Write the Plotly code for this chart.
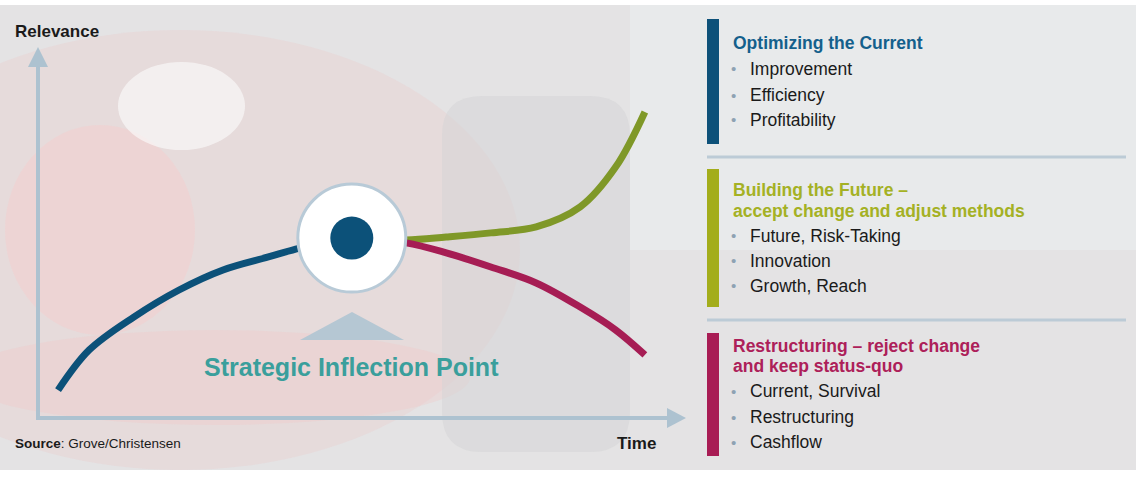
import plotly.graph_objects as go

# ***** DATA *****
# curve before the inflection point (time, relevance in % of axis)
time_before = [3.1, 7.9, 14.8, 21.8, 28.6, 35.6, 40.5, 48.5]
rel_before = [7.5, 18.3, 27.2, 34.5, 39.9, 43.4, 45.8, 48.5]

# the two paths after the inflection point
time_after = [48.5, 56.9, 63.1, 70.0, 77.0, 83.8, 89.3, 93.8]
rel_future = [48.5, 48.0, 48.8, 49.9, 51.5, 56.9, 67.7, 82.5]
rel_restructure = [48.5, 47.2, 44.5, 40.7, 36.4, 29.9, 23.7, 17.0]

inflection_t = [48.5]
inflection_r = [48.5]

block_titles = [
    ["Optimizing the Current"],
    ["Building the Future \u2013", "accept change and adjust methods"],
    ["Restructuring \u2013 reject change", "and keep status-quo"],
]
block_items = [
    ["Improvement", "Efficiency", "Profitability"],
    ["Future, Risk-Taking", "Innovation", "Growth, Reach"],
    ["Current, Survival", "Restructuring", "Cashflow"],
]

# ***** STYLE / LAYOUT *****
W, H = 1136, 477
FONT = "Liberation Sans, Arial, sans-serif"
BLUE = "#0c5179"
GREEN = "#7f9828"
RED = "#a61d54"
AXIS = "#adc2d0"
bar_colors = ["#0d5179", "#a3ad1b", "#a81c54"]
title_colors = ["#14608c", "#a4b124", "#ad2059"]

# pixel positions of the right-hand panel
bar_spans = [(19, 144), (169, 307), (333, 456)]
title_y = [[43], [190, 210.5], [345.5, 365.5]]
item_y = [[69, 95, 120], [235.5, 260.5, 285.5], [391, 417, 442]]
sep_y = [157, 320]


def px(x):
    return x / W


def py(y):
    return 1 - y / H


fig = go.Figure()

fig.add_trace(go.Scatter(x=time_before, y=rel_before, mode="lines",
                         line=dict(color=BLUE, width=7, shape="spline")))
fig.add_trace(go.Scatter(x=time_after, y=rel_future, mode="lines",
                         line=dict(color=GREEN, width=7, shape="spline")))
fig.add_trace(go.Scatter(x=time_after, y=rel_restructure, mode="lines",
                         line=dict(color=RED, width=7, shape="spline")))
# the inflection point: white ring with a dark dot
fig.add_trace(go.Scatter(x=inflection_t, y=inflection_r, mode="markers",
                         marker=dict(size=108, color="white",
                                     line=dict(color="#b8cad7", width=3))))
fig.add_trace(go.Scatter(x=inflection_t, y=inflection_r, mode="markers",
                         marker=dict(size=43, color=BLUE)))

shapes = []


def soft(kind, x0, x1, y0, y1, color):
    shapes.append(dict(type=kind, xref="paper", yref="paper", layer="below",
                       x0=px(x0), x1=px(x1), y0=py(y1), y1=py(y0),
                       fillcolor=color, line_width=0))


# backdrop (stands in for the blurred photo)
soft("rect", 0, W, 5, 470, "#e4e3e4")
soft("rect", 630, W, 5, 250, "rgba(238,242,245,0.45)")
soft("circle", -160, 520, 30, 470, "rgba(236,196,196,0.28)")
soft("circle", 5, 195, 125, 335, "rgba(246,204,204,0.45)")
soft("circle", -40, 470, 330, 425, "rgba(242,200,200,0.35)")
soft("circle", 118, 245, 62, 150, "rgba(250,250,250,0.65)")
# tyre
x0, x1, y0, y1, r = px(442), px(630), py(96), py(452), 40
rx, ry = r / W, r / H
shapes.append(dict(type="path", xref="paper", yref="paper", layer="below",
                   path=(f"M {x0 + rx} {y0} L {x1 - rx} {y0} Q {x1} {y0} {x1} {y0 - ry} "
                         f"L {x1} {y1 + ry} Q {x1} {y1} {x1 - rx} {y1} "
                         f"L {x0 + rx} {y1} Q {x0} {y1} {x0} {y1 + ry} "
                         f"L {x0} {y0 - ry} Q {x0} {y0} {x0 + rx} {y0} Z"),
                   fillcolor="rgba(212,212,214,0.5)", line_width=0))

# axes with arrow heads
shapes.append(dict(type="line", xref="paper", yref="paper",
                   x0=px(38), x1=px(38), y0=py(420), y1=py(64),
                   line=dict(color=AXIS, width=4)))
shapes.append(dict(type="path", xref="paper", yref="paper",
                   path=f"M {px(38)} {py(47)} L {px(28)} {py(67)} L {px(48)} {py(67)} Z",
                   fillcolor=AXIS, line_width=0))
shapes.append(dict(type="line", xref="paper", yref="paper",
                   x0=px(36), x1=px(670), y0=py(418), y1=py(418),
                   line=dict(color=AXIS, width=4)))
shapes.append(dict(type="path", xref="paper", yref="paper",
                   path=f"M {px(686)} {py(418)} L {px(667)} {py(408)} L {px(667)} {py(428)} Z",
                   fillcolor=AXIS, line_width=0))
# pointer triangle under the inflection point
shapes.append(dict(type="path", xref="paper", yref="paper",
                   path=f"M {px(352)} {py(312)} L {px(300)} {py(340)} L {px(404)} {py(340)} Z",
                   fillcolor="#b5c7d3", line_width=0))

# right panel bars and separators
for (b0, b1), c in zip(bar_spans, bar_colors):
    shapes.append(dict(type="rect", xref="paper", yref="paper",
                       x0=px(707), x1=px(719), y0=py(b1), y1=py(b0),
                       fillcolor=c, line_width=0))
for y in sep_y:
    shapes.append(dict(type="line", xref="paper", yref="paper",
                       x0=px(707), x1=px(1126), y0=py(y), y1=py(y),
                       line=dict(color="#bccbd6", width=3)))

ann = []


def label(text, x, y, size, color="#1a1a1a", bold=False, anchor="left"):
    if bold:
        text = f"<b>{text}</b>"
    ann.append(dict(text=text, x=px(x), y=py(y), xref="paper", yref="paper",
                    xanchor=anchor, yanchor="middle", showarrow=False,
                    font=dict(family=FONT, size=size, color=color)))


label("Relevance", 13, 31, 17, bold=True)
label("Time", 615, 443, 17, bold=True)
label("<b>Source</b>: Grove/Christensen", 13, 443, 13.5)
label("Strategic Inflection Point", 351, 367, 25, color="#3a9f9c", bold=True,
      anchor="center")

for titles, items, tys, iys, c in zip(block_titles, block_items, title_y, item_y, title_colors):
    for t, y in zip(titles, tys):
        label(t, 731, y, 17.5, color=c, bold=True)
    for it, y in zip(items, iys):
        label("\u2022", 729, y, 15, color="#8ea2b3")
        label(it, 748, y, 17.5)

fig.update_layout(
    width=W, height=H,
    margin=dict(l=0, r=0, t=0, b=0),
    paper_bgcolor="white",
    plot_bgcolor="rgba(0,0,0,0)",
    showlegend=False,
    shapes=shapes,
    annotations=ann,
    xaxis=dict(domain=[px(38), px(685)], range=[0, 100], visible=False, fixedrange=True),
    yaxis=dict(domain=[py(418), py(47)], range=[0, 100], visible=False, fixedrange=True),
)

# page has a default 8px body margin; drop it so the figure fills the window
fig.write_html("out.html", config={"displayModeBar": False},
               post_script="document.body.style.margin='0';")
